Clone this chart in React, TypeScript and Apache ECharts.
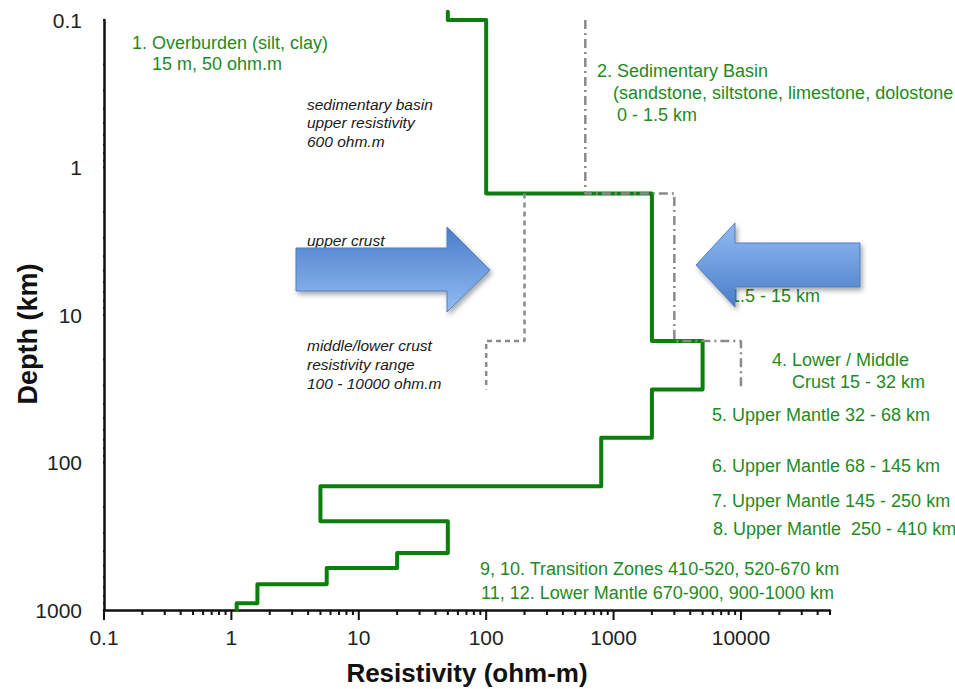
import React, { useEffect, useRef } from "react";
import * as echarts from "echarts";

// Axis ranges and tick labels
const X_MIN = 0.1;
const X_MAX = 50000;
const Y_MIN = 0.1;
const Y_MAX = 1000;
const X_TICKS = [0.1, 1, 10, 100, 1000, 10000];
const Y_TICKS = [0.1, 1, 10, 100, 1000];
const MINOR_STEPS = [2, 3, 4, 5, 6, 7, 8, 9];

// Layered resistivity profile (vertex list of the step line)
const profileRes = [50, 50, 100, 100, 2000, 2000, 5000, 5000, 2000, 2000, 800, 800, 5, 5, 50, 50, 20, 20, 5.6, 5.6, 1.6, 1.6, 1.1, 1.1];
const profileDepth = [0.088, 0.1, 0.1, 1.5, 1.5, 15, 15, 32, 32, 68, 68, 145, 145, 250, 250, 410, 410, 520, 520, 670, 670, 900, 900, 1000];

// Crustal resistivity range bounds
const lowerBoundRes = [200, 200, 100, 100];
const lowerBoundDepth = [1.5, 15, 15, 32];
const upperBoundRes = [600, 600, 3000, 3000, 10000, 10000];
const upperBoundDepth = [0.1, 1.5, 1.5, 15, 15, 32];

// Tick mark lengths, as ratios along the other (log) axis
const X_MAJOR_LEN = 1.169;
const X_MINOR_LEN = 1.081;
const Y_MAJOR_LEN = 0.82;
const Y_MINOR_LEN = 0.897;

const FONT = "'Liberation Sans', Arial, Helvetica, sans-serif";
const GREEN_LINE = "#0b7f0b";
const GREEN_TEXT = "#1f8a1f";
const GRAY = "#8a8a8a";

const zip = (xs: number[], ys: number[]) => xs.map((x, i) => [x, ys[i]]);

const minorValues = (majors: number[], max: number) => {
  const out: number[] = [];
  majors.forEach((m) => MINOR_STEPS.forEach((s) => {
    const v = +(m * s).toPrecision(6);
    if (v <= max) out.push(v);
  }));
  return out;
};

const fmt = (list: number[]) => (v: number) => {
  const n = +(+v).toPrecision(6);
  return list.some((t) => Math.abs(t - n) / t < 1e-6) ? String(n) : "";
};

// Short segments separated by gaps, one per tick
const xTickSegments = (vals: number[], ratio: number) =>
  vals.flatMap((v) => [[v, Y_MAX], [v, Y_MAX * ratio], [null, null]]);
const yTickSegments = (vals: number[], ratio: number) =>
  vals.flatMap((v) => [[X_MIN * ratio, v], [X_MIN, v], [null, null]]);

type Note = { text: string; x: number; y: number; italic?: boolean };

const notes: Note[] = [
  { text: "1. Overburden (silt, clay)", x: 132, y: 43 },
  { text: "15 m, 50 ohm.m", x: 152, y: 64 },
  { text: "2. Sedimentary Basin", x: 597, y: 71 },
  { text: "(sandstone, siltstone, limestone, dolostone", x: 613, y: 93 },
  { text: "0 - 1.5 km", x: 617, y: 115 },
  { text: "1.5 - 15 km", x: 730, y: 296 },
  { text: "4. Lower / Middle", x: 772, y: 360 },
  { text: "Crust 15 - 32 km", x: 792, y: 382 },
  { text: "5. Upper Mantle 32 - 68 km", x: 712, y: 415 },
  { text: "6. Upper Mantle 68 - 145 km", x: 712, y: 466 },
  { text: "7. Upper Mantle 145 - 250 km", x: 712, y: 501 },
  { text: "8. Upper Mantle  250 - 410 km", x: 713, y: 529 },
  { text: "9, 10. Transition Zones 410-520, 520-670 km", x: 480, y: 569 },
  { text: "11, 12. Lower Mantle 670-900, 900-1000 km", x: 481, y: 593 },
  { text: "sedimentary basin", x: 307, y: 104, italic: true },
  { text: "upper resistivity", x: 307, y: 122, italic: true },
  { text: "600 ohm.m", x: 307, y: 141, italic: true },
  { text: "upper crust", x: 307, y: 240, italic: true },
  { text: "middle/lower crust", x: 307, y: 345, italic: true },
  { text: "resistivity range", x: 307, y: 364, italic: true },
  { text: "100 - 10000 ohm.m", x: 307, y: 383, italic: true },
];

const arrowStyle = (topColor: string, bottomColor: string) => ({
  fill: new echarts.graphic.LinearGradient(0, 0, 0, 1, [
    { offset: 0, color: topColor },
    { offset: 1, color: bottomColor },
  ]),
  stroke: "#4f7fc2",
  lineWidth: 1,
  shadowBlur: 5,
  shadowOffsetX: 2,
  shadowOffsetY: 3,
  shadowColor: "rgba(0,0,0,0.35)",
});

const tickSeries = (name: string, data: any[]) => ({
  name,
  type: "line",
  data,
  silent: true,
  clip: false,
  showSymbol: false,
  connectNulls: false,
  z: 4,
  lineStyle: { color: "#111", width: 2, cap: "butt" },
});

export default function App() {
  const ref = useRef<HTMLDivElement>(null);

  useEffect(() => {
    const chart = echarts.init(ref.current!, null, { renderer: "svg" });

    chart.setOption({
      animation: false,
      grid: { left: 104, right: 125, top: 20, bottom: 79 },
      xAxis: {
        type: "log",
        min: X_MIN,
        max: X_MAX,
        axisLine: { lineStyle: { color: "#111", width: 2.5 } },
        axisTick: { show: false },
        splitLine: { show: false },
        axisLabel: { fontSize: 21, color: "#222", margin: 17, fontFamily: FONT, formatter: fmt(X_TICKS), showMaxLabel: false },
      },
      yAxis: {
        type: "log",
        inverse: true,
        min: Y_MIN,
        max: Y_MAX,
        axisLine: { lineStyle: { color: "#111", width: 2.5 } },
        axisTick: { show: false },
        splitLine: { show: false },
        axisLabel: { fontSize: 21, color: "#222", margin: 22, fontFamily: FONT, formatter: fmt(Y_TICKS) },
      },
      series: [
        {
          name: "Resistivity profile",
          type: "line",
          data: zip(profileRes, profileDepth),
          showSymbol: false,
          clip: false,
          z: 2,
          lineStyle: { color: GREEN_LINE, width: 4, join: "round", cap: "round" },
        },
        {
          name: "Lower bound",
          type: "line",
          data: zip(lowerBoundRes, lowerBoundDepth),
          showSymbol: false,
          z: 3,
          lineStyle: { color: GRAY, width: 2.5, type: [5, 4] },
        },
        {
          name: "Upper bound",
          type: "line",
          data: zip(upperBoundRes, upperBoundDepth),
          showSymbol: false,
          z: 3,
          lineStyle: { color: GRAY, width: 2.5, type: [9, 4, 2, 4] },
        },
        tickSeries("x major ticks", xTickSegments(X_TICKS, X_MAJOR_LEN)),
        tickSeries("x minor ticks", xTickSegments(minorValues(X_TICKS, X_MAX), X_MINOR_LEN)),
        tickSeries("y major ticks", yTickSegments(Y_TICKS, Y_MAJOR_LEN)),
        tickSeries("y minor ticks", yTickSegments(minorValues(Y_TICKS.slice(0, -1), Y_MAX), Y_MINOR_LEN)),
      ],
      graphic: [
        ...notes.map((n) => ({
          type: "text",
          x: n.x,
          y: n.y,
          z: 20,
          style: {
            text: n.text,
            fill: n.italic ? "#1a1a1a" : GREEN_TEXT,
            fontFamily: FONT,
            fontSize: n.italic ? 15.5 : 18,
            fontStyle: n.italic ? "italic" : "normal",
            align: "left",
            verticalAlign: "middle",
          },
        })),
        {
          type: "polygon",
          z: 30,
          shape: { points: [[296, 248], [447, 248], [447, 227], [490, 270], [447, 312], [447, 291], [296, 291]] },
          style: arrowStyle("#4a7dc9", "#92bbf2"),
        },
        {
          type: "polygon",
          z: 30,
          shape: { points: [[696, 265], [735, 223], [735, 243], [860, 243], [860, 287], [735, 287], [735, 307]] },
          style: arrowStyle("#92bbf2", "#4a7dc9"),
        },
        {
          type: "text",
          x: 467,
          y: 673,
          z: 20,
          style: { text: "Resistivity (ohm-m)", fill: "#111", fontFamily: FONT, fontSize: 26, fontWeight: "bold", align: "center", verticalAlign: "middle" },
        },
        {
          type: "text",
          x: 28,
          y: 334,
          rotation: Math.PI / 2,
          z: 20,
          style: { text: "Depth (km)", fill: "#111", fontFamily: FONT, fontSize: 27, fontWeight: "bold", align: "center", verticalAlign: "middle" },
        },
      ],
    });

    return () => chart.dispose();
  }, []);

  return (
    <div
      ref={ref}
      style={{ position: "absolute", left: 0, top: 0, width: 955, height: 689, background: "#fff" }}
    />
  );
}
